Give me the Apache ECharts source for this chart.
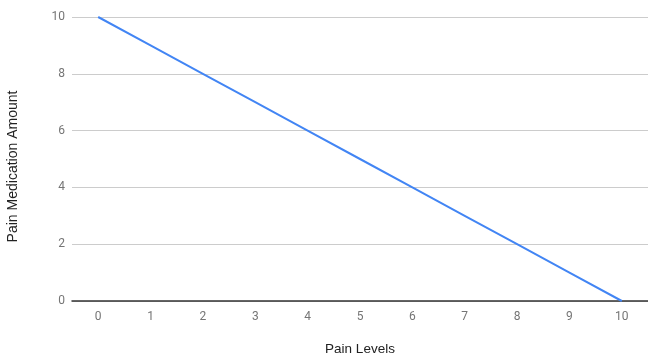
<!DOCTYPE html>
<html><head><meta charset="utf-8">
<script src="https://cdn.jsdelivr.net/npm/echarts@6/dist/echarts.min.js"></script>
<style>html,body{margin:0;padding:0;background:#fff}#c{width:648px;height:356px}</style>
</head><body><div id="c"></div>
<script>
var painLevels = ['0','1','2','3','4','5','6','7','8','9','10'];
var medicationAmount = [10, 9, 8, 7, 6, 5, 4, 3, 2, 1, 0];
var yTicks = [0, 2, 4, 6, 8, 10];

var chart = echarts.init(document.getElementById('c'), null, {renderer: 'canvas'});
chart.setOption({
  animation: false,
  grid: {left: 72, right: 0, top: 17, bottom: 55, containLabel: false, outerBoundsMode: 'none'},
  xAxis: {
    type: 'category',
    data: painLevels,
    boundaryGap: true,
    name: 'Pain Levels',
    nameLocation: 'middle',
    nameGap: 41,
    nameTextStyle: {fontFamily: 'Liberation Sans', fontSize: 13.5, color: '#222'},
    axisLine: {lineStyle: {color: '#333', width: 1.5}},
    axisTick: {show: false},
    axisLabel: {fontFamily: 'Roboto', fontSize: 12, color: '#757575', margin: 10}
  },
  yAxis: {
    type: 'value',
    min: yTicks[0],
    max: yTicks[yTicks.length - 1],
    interval: 2,
    name: 'Pain Medication Amount',
    nameLocation: 'middle',
    nameGap: 52,
    nameTextStyle: {fontFamily: 'Liberation Sans', fontSize: 14, color: '#222', padding: [0, 15, 0, 0]},
    axisLine: {show: false},
    axisTick: {show: false},
    splitLine: {lineStyle: {color: '#ccc', width: 1}},
    axisLabel: {fontFamily: 'Roboto', fontSize: 12, color: '#757575', margin: 7}
  },
  series: [{
    type: 'line',
    data: medicationAmount,
    symbol: 'none',
    lineStyle: {color: '#4285F4', width: 2},
    itemStyle: {color: '#4285F4'}
  }]
});
</script></body></html>
